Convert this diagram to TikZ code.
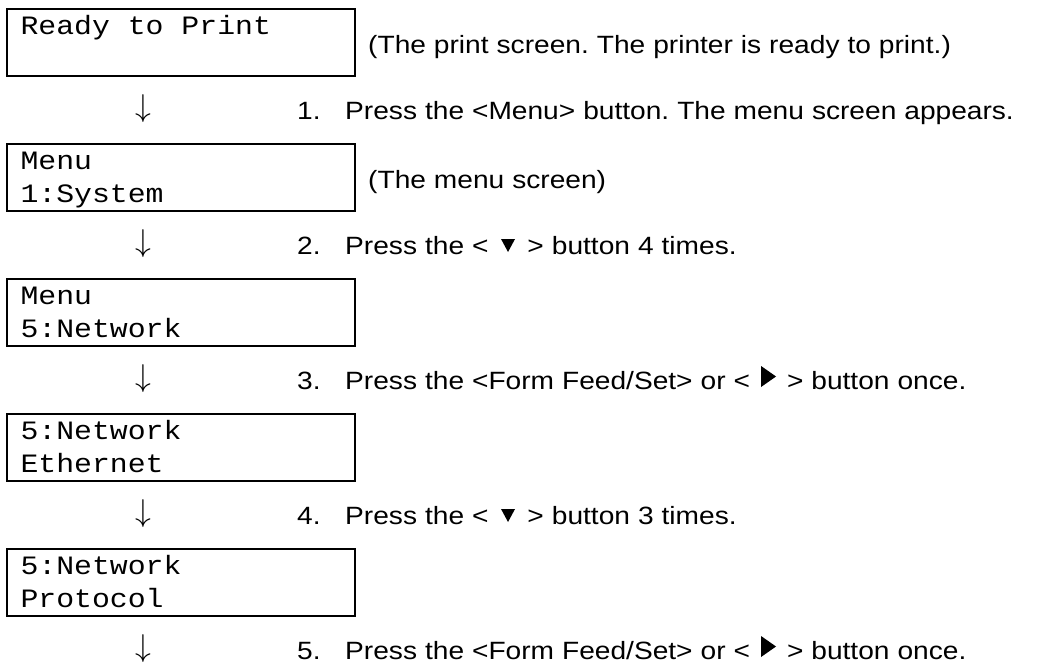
\documentclass[tikz,border=0pt]{standalone}
\usepackage{graphicx}
\usepackage{fontspec}
\setmainfont{Liberation Sans}[FakeStretch=1.125,WordSpace=1.02]
\newfontfamily\lcdfont{Liberation Mono}[FakeStretch=1.125]
\frenchspacing
\newcommand{\keydown}{\tikz[baseline=0pt]{\path (0pt,0pt) rectangle (23pt,14pt); \fill (4.5pt,15pt) -- (18.5pt,15pt) -- (11.5pt,2pt) -- cycle;}}
\newcommand{\keyright}{\tikz[baseline=0pt]{\path (0pt,0pt) rectangle (21pt,23pt); \fill (3pt,2pt) -- (3pt,23pt) -- (18pt,12.5pt) -- cycle;}}
\newcommand{\lcdtop}{\spaceskip=\fontcharwd\font77\relax\rule{0pt}{25.6pt}}
\newcommand{\lcdbot}{\rule[-7.9pt]{0pt}{7.9pt}}
\newcommand{\nextarrow}{\scalebox{1.27}{$\downarrow$}}

\begin{document}
\begin{tikzpicture}[x=1pt,y=-1pt]
	\tikzset{screen/.style={draw,line width=2pt,anchor=north west,minimum width=348pt,minimum height=66.5pt,text width=321pt,inner xsep=13.5pt,inner ysep=0pt,align=left,font=\lcdfont\fontsize{26.5}{33}\selectfont}}
	\tikzset{flow/.style={inner sep=0pt,font=\fontsize{24.88}{30}\selectfont}}
	\tikzset{note/.style={anchor=base west,inner sep=0pt,font=\fontsize{25}{30}\selectfont}}
	\useasboundingbox (0,0) rectangle (1047,664);
	\node[screen] (s1) at (6,8) {\lcdtop Ready to Print\\\lcdbot};
	\node[screen] (s2) at (6,143) {\lcdtop Menu\\\lcdbot 1:System};
	\node[screen] (s3) at (6,278) {\lcdtop Menu\\\lcdbot 5:Network};
	\node[screen] (s4) at (6,413) {\lcdtop 5:Network\\\lcdbot Ethernet};
	\node[screen] (s5) at (6,548) {\lcdtop 5:Network\\\lcdbot Protocol};
	\node[note] (c1) at (368,53) {(The print screen. The printer is ready to print.)};
	\node[note] (c2) at (368,188) {(The menu screen)};
	\node[flow] (a1) at (143,108.5) {\nextarrow};
	\node[flow] (a2) at (143,243.5) {\nextarrow};
	\node[flow] (a3) at (143,378.5) {\nextarrow};
	\node[flow] (a4) at (143,513.5) {\nextarrow};
	\node[flow] (a5) at (143,648.5) {\nextarrow};
	\node[note] (n1) at (297,119) {\makebox[48pt][l]{1.}Press the <Menu> button. The menu screen appears.};
	\node[note] (n2) at (297,254) {\makebox[48pt][l]{2.}Press the < \keydown{} > button 4 times.};
	\node[note] (n3) at (297,389) {\makebox[48pt][l]{3.}Press the <Form Feed/Set> or < \keyright{} > button once.};
	\node[note] (n4) at (297,524) {\makebox[48pt][l]{4.}Press the < \keydown{} > button 3 times.};
	\node[note] (n5) at (297,659) {\makebox[48pt][l]{5.}Press the <Form Feed/Set> or < \keyright{} > button once.};
\end{tikzpicture}
\end{document}
